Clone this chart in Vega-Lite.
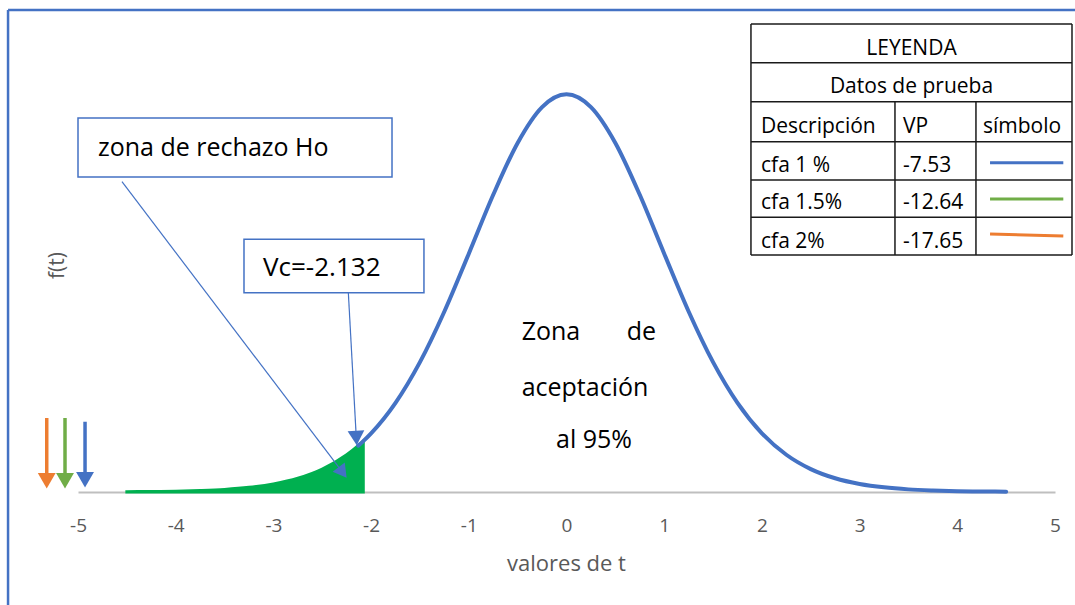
{
  "$schema": "https://vega.github.io/schema/vega-lite/v6.json",
  "width": 977,
  "height": 424,
  "autosize": {"type": "none"},
  "padding": {"left": 78, "top": 68, "right": 20, "bottom": 113},
  "background": "white",
  "config": {"view": {"stroke": null}, "font": "Open Sans"},
  "datasets": {
    "curve": [
      {"t": -4.5, "f": 0.0003}, {"t": -4.25, "f": 0.0005}, {"t": -4.0, "f": 0.0008}, {"t": -3.75, "f": 0.0015},
      {"t": -3.5, "f": 0.0026}, {"t": -3.25, "f": 0.0046}, {"t": -3.0, "f": 0.0080}, {"t": -2.75, "f": 0.0136},
      {"t": -2.5, "f": 0.0227}, {"t": -2.25, "f": 0.0369}, {"t": -2.132, "f": 0.0459}, {"t": -2.08, "f": 0.0504},
      {"t": -2.0, "f": 0.0581},
      {"t": -1.75, "f": 0.0883}, {"t": -1.5, "f": 0.1286}, {"t": -1.25, "f": 0.1788}, {"t": -1.0, "f": 0.2361},
      {"t": -0.75, "f": 0.2944}, {"t": -0.5, "f": 0.3458}, {"t": -0.25, "f": 0.3813}, {"t": 0.0, "f": 0.394},
      {"t": 0.25, "f": 0.3813}, {"t": 0.5, "f": 0.3458}, {"t": 0.75, "f": 0.2944}, {"t": 1.0, "f": 0.2361},
      {"t": 1.25, "f": 0.1788}, {"t": 1.5, "f": 0.1286}, {"t": 1.75, "f": 0.0883}, {"t": 2.0, "f": 0.0581},
      {"t": 2.25, "f": 0.0369}, {"t": 2.5, "f": 0.0227}, {"t": 2.75, "f": 0.0136}, {"t": 3.0, "f": 0.0080},
      {"t": 3.25, "f": 0.0046}, {"t": 3.5, "f": 0.0026}, {"t": 3.75, "f": 0.0015}, {"t": 4.0, "f": 0.0008},
      {"t": 4.25, "f": 0.0005}, {"t": 4.5, "f": 0.0003}
    ],
    "frame": [
      {"t": -5.716, "f": 0.4775, "t2": -5.716, "f2": -0.112},
      {"t": -5.716, "f": 0.4775, "t2": 5.205, "f2": 0.4775}
    ],
    "arrows": [
      {"serie": "cfa 2%", "t": -5.32, "f": 0.0733, "t2": -5.32, "f2": 0.0139},
      {"serie": "cfa 1.5%", "t": -5.133, "f": 0.0733, "t2": -5.133, "f2": 0.0139},
      {"serie": "cfa 1 %", "t": -4.928, "f": 0.0696, "t2": -4.928, "f2": 0.0139}
    ],
    "heads": [
      {"serie": "cfa 2%", "t": -5.32, "f": 0.0112},
      {"serie": "cfa 1.5%", "t": -5.133, "f": 0.0112},
      {"serie": "cfa 1 %", "t": -4.928, "f": 0.0122}
    ],
    "leaders": [
      {"t": -4.55, "f": 0.3074, "t2": -2.291, "f2": 0.0194},
      {"t": -2.233, "f": 0.1974, "t2": -2.151, "f2": 0.0529}
    ],
    "boxes": [
      {"t": -5.0, "f": 0.3705, "t2": -1.786, "f2": 0.3120},
      {"t": -3.301, "f": 0.2503, "t2": -1.459, "f2": 0.1974}
    ],
    "zona": [
      {"label": "Zona", "t": -0.459, "f": 0.1588},
      {"label": "de", "t": 0.616, "f": 0.1588},
      {"label": "aceptación", "t": -0.459, "f": 0.1030},
      {"label": "al 95%", "t": -0.107, "f": 0.0515}
    ],
    "tablelines": [
      {"t": 1.888, "f": 0.4636, "t2": 5.174, "f2": 0.4636},
      {"t": 1.888, "f": 0.4253, "t2": 5.174, "f2": 0.4253},
      {"t": 1.888, "f": 0.3866, "t2": 5.174, "f2": 0.3866},
      {"t": 1.888, "f": 0.3470, "t2": 5.174, "f2": 0.3470},
      {"t": 1.888, "f": 0.3091, "t2": 5.174, "f2": 0.3091},
      {"t": 1.888, "f": 0.2721, "t2": 5.174, "f2": 0.2721},
      {"t": 1.888, "f": 0.2348, "t2": 5.174, "f2": 0.2348},
      {"t": 1.888, "f": 0.4636, "t2": 1.888, "f2": 0.2348},
      {"t": 5.174, "f": 0.4636, "t2": 5.174, "f2": 0.2348},
      {"t": 3.362, "f": 0.3866, "t2": 3.362, "f2": 0.2348},
      {"t": 4.191, "f": 0.3866, "t2": 4.191, "f2": 0.2348}
    ],
    "tablehead": [
      {"label": "LEYENDA", "t": 3.531, "f": 0.4329},
      {"label": "Datos de prueba", "t": 3.531, "f": 0.3955}
    ],
    "tablecells": [
      {"label": "Descripción", "t": 1.991, "f": 0.3553},
      {"label": "VP", "t": 3.444, "f": 0.3553},
      {"label": "símbolo", "t": 4.263, "f": 0.3553},
      {"label": "cfa 1 %", "t": 1.991, "f": 0.3173},
      {"label": "-7.53", "t": 3.444, "f": 0.3173},
      {"label": "cfa 1.5%", "t": 1.991, "f": 0.2800},
      {"label": "-12.64", "t": 3.444, "f": 0.2800},
      {"label": "cfa 2%", "t": 1.991, "f": 0.2420},
      {"label": "-17.65", "t": 3.444, "f": 0.2420}
    ],
    "samples": [
      {"serie": "cfa 1 %", "t": 4.335, "f": 0.3262, "t2": 5.085, "f2": 0.3262},
      {"serie": "cfa 1.5%", "t": 4.335, "f": 0.2902, "t2": 5.085, "f2": 0.2902},
      {"serie": "cfa 2%", "t": 4.335, "f": 0.2556, "t2": 5.085, "f2": 0.2536}
    ]
  },
  "encoding": {
    "x": {
      "field": "t", "type": "quantitative",
      "scale": {"domain": [-5, 5], "nice": false, "zero": false},
      "axis": {
        "title": "valores de t",
        "values": [-5, -4, -3, -2, -1, 0, 1, 2, 3, 4, 5],
        "format": "d",
        "labelExpr": "replace(datum.label, '\u2212', '-')",
        "grid": false, "ticks": false, "tickSize": 0,
        "domainColor": "#BFBFBF", "domainWidth": 2,
        "labelColor": "#595959", "labelFontSize": 19, "labelFont": "Open Sans",
        "labelBaseline": "middle", "labelPadding": 33, "labelFlush": false, "labelOverlap": false,
        "titleColor": "#595959", "titleFontSize": 22, "titleFontWeight": "normal", "titleFont": "Open Sans",
        "titleBaseline": "middle", "titleY": 71, "titleX": 488
      }
    },
    "y": {
      "field": "f", "type": "quantitative",
      "scale": {"domain": [0, 0.42], "nice": false, "zero": false},
      "axis": {
        "title": "f(t)", "labels": false, "ticks": false, "domain": false, "grid": false,
        "titleColor": "#595959", "titleFontSize": 21, "titleFontWeight": "normal", "titleFont": "Open Sans",
        "titleX": -21, "titleY": 197, "titleAngle": -90, "titleAlign": "center", "titleBaseline": "middle"
      }
    }
  },
  "layer": [
    {
      "data": {"name": "frame"},
      "mark": {"type": "rule", "color": "#4472C4", "strokeWidth": 2.5},
      "encoding": {"x2": {"field": "t2"}, "y2": {"field": "f2"}}
    },
    {
      "data": {"name": "tablelines"},
      "mark": {"type": "rule", "color": "#1a1a1a", "strokeWidth": 1.5},
      "encoding": {"x2": {"field": "t2"}, "y2": {"field": "f2"}}
    },
    {
      "data": {"name": "curve"},
      "transform": [{"filter": "datum.t <= -2.08"}],
      "mark": {"type": "area", "interpolate": "monotone", "color": "#00B050", "stroke": "#00B050", "strokeWidth": 3, "strokeCap": "round"},
      "encoding": {}
    },
    {
      "data": {"name": "curve"},
      "transform": [{"filter": "datum.t >= -2.132"}],
      "mark": {"type": "line", "interpolate": "monotone", "color": "#4472C4", "strokeWidth": 4, "strokeCap": "round"},
      "encoding": {}
    },
    {
      "data": {"name": "arrows"},
      "mark": {"type": "rule", "strokeWidth": 3.5},
      "encoding": {
        "x2": {"field": "t2"}, "y2": {"field": "f2"},
        "color": {"field": "serie", "type": "nominal", "scale": {"domain": ["cfa 1 %", "cfa 1.5%", "cfa 2%"], "range": ["#4472C4", "#70AD47", "#ED7D31"]}, "legend": null}
      }
    },
    {
      "data": {"name": "heads"},
      "mark": {"type": "point", "shape": "triangle-down", "filled": true, "size": 320, "opacity": 1},
      "encoding": {
        "color": {"field": "serie", "type": "nominal", "scale": {"domain": ["cfa 1 %", "cfa 1.5%", "cfa 2%"], "range": ["#4472C4", "#70AD47", "#ED7D31"]}, "legend": null}
      }
    },
    {
      "data": {"name": "boxes"},
      "mark": {"type": "rect", "fill": "white", "stroke": "#4472C4", "strokeWidth": 1.5},
      "encoding": {"x2": {"field": "t2"}, "y2": {"field": "f2"}}
    },
    {
      "data": {"values": [{"label": "zona de rechazo Ho", "t": -4.795, "f": 0.3408}]},
      "mark": {"type": "text", "align": "left", "baseline": "middle", "fontSize": 25, "font": "Open Sans", "color": "black"},
      "encoding": {"text": {"field": "label"}}
    },
    {
      "data": {"values": [{"label": "Vc=-2.132", "t": -3.106, "f": 0.2219}]},
      "mark": {"type": "text", "align": "left", "baseline": "middle", "fontSize": 26, "font": "Open Sans", "color": "black"},
      "encoding": {"text": {"field": "label"}}
    },
    {
      "data": {"name": "zona"},
      "mark": {"type": "text", "align": "left", "baseline": "middle", "fontSize": 25, "font": "Open Sans", "color": "black"},
      "encoding": {"text": {"field": "label"}}
    },
    {
      "data": {"name": "leaders"},
      "mark": {"type": "rule", "color": "#4472C4", "strokeWidth": 1.2},
      "encoding": {"x2": {"field": "t2"}, "y2": {"field": "f2"}}
    },
    {
      "data": {"values": [{"t": -2.291, "f": 0.0194}]},
      "mark": {"type": "point", "shape": "triangle-down", "filled": true, "size": 230, "angle": 323, "color": "#4472C4", "opacity": 1},
      "encoding": {}
    },
    {
      "data": {"values": [{"t": -2.151, "f": 0.0535}]},
      "mark": {"type": "point", "shape": "triangle-down", "filled": true, "size": 280, "angle": 357, "color": "#4472C4", "opacity": 1},
      "encoding": {}
    },
    {
      "data": {"name": "tablehead"},
      "mark": {"type": "text", "align": "center", "baseline": "alphabetic", "fontSize": 21, "font": "Open Sans", "color": "black"},
      "encoding": {"text": {"field": "label"}}
    },
    {
      "data": {"name": "tablecells"},
      "mark": {"type": "text", "align": "left", "baseline": "alphabetic", "fontSize": 21, "font": "Open Sans", "color": "black"},
      "encoding": {"text": {"field": "label"}}
    },
    {
      "data": {"name": "samples"},
      "mark": {"type": "rule", "strokeWidth": 3},
      "encoding": {
        "x2": {"field": "t2"}, "y2": {"field": "f2"},
        "color": {"field": "serie", "type": "nominal", "scale": {"domain": ["cfa 1 %", "cfa 1.5%", "cfa 2%"], "range": ["#4472C4", "#70AD47", "#ED7D31"]}, "legend": null}
      }
    }
  ]
}
